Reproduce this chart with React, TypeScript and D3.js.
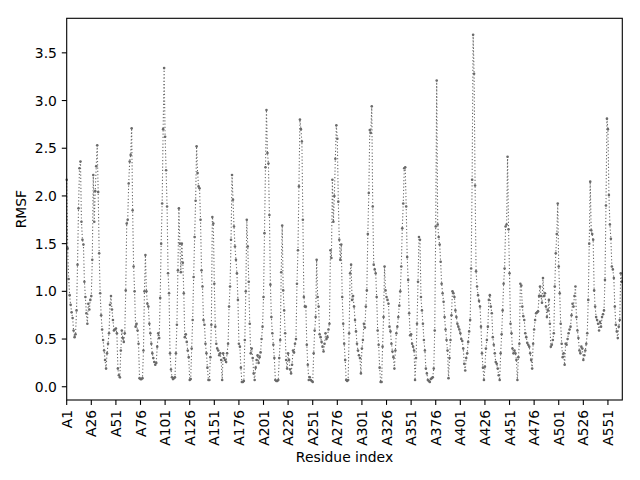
import React from 'react';
import * as d3 from 'd3';

// RMSF per residue (index 0 = residue A1)
const rmsf: number[] = [
  2.17, 1.45, 1.13, 0.96, 0.86, 0.78, 0.72, 0.59, 0.52, 0.55,
  0.80, 1.28, 1.87, 2.29, 2.36, 1.73, 1.54, 1.49, 1.10, 0.94,
  0.77, 0.66, 0.87, 0.81, 0.91, 0.95, 1.33, 2.22, 1.73, 2.05,
  2.31, 2.53, 2.04, 1.40, 0.98, 0.75, 0.60, 0.49, 0.38, 0.28,
  0.19, 0.35, 0.45, 0.56, 0.86, 0.95, 0.81, 0.70, 0.59, 0.60,
  0.61, 0.56, 0.19, 0.12, 0.10, 0.38, 0.59, 0.51, 0.47, 0.56,
  1.01, 1.71, 1.75, 2.13, 2.36, 2.43, 2.71, 1.85, 1.26, 1.00,
  0.63, 0.66, 0.59, 0.45, 0.09, 0.08, 0.08, 0.09, 0.38, 1.00,
  1.38, 1.00, 0.87, 0.84, 0.66, 0.56, 0.45, 0.35, 0.30, 0.26,
  0.23, 0.25, 0.42, 0.56, 0.51, 0.93, 1.50, 1.92, 2.70, 3.34,
  2.62, 2.27, 1.89, 1.19, 0.98, 0.35, 0.18, 0.10, 0.08, 0.09,
  0.10, 0.35, 0.65, 1.22, 1.87, 1.50, 1.20, 1.50, 1.30, 0.98,
  0.52, 0.55, 0.47, 0.38, 0.31, 0.07, 0.08, 0.40, 0.70, 1.15,
  1.57, 1.95, 2.52, 2.24, 2.10, 2.08, 1.75, 1.22, 1.05, 0.70,
  0.65, 0.45, 0.35, 0.20, 0.07, 0.07, 0.31, 0.65, 1.78, 1.71,
  1.08, 0.63, 0.45, 0.40, 0.38, 0.33, 0.35, 0.28, 0.07, 0.35,
  0.30, 0.28, 0.26, 0.35, 0.45, 0.84, 1.05, 1.54, 2.22, 1.96,
  1.68, 1.47, 1.33, 1.19, 0.91, 0.45, 0.42, 0.20, 0.05, 0.05,
  0.06, 0.49, 1.00, 1.75, 1.47, 1.10, 0.66, 0.35, 0.40, 0.30,
  0.14, 0.07, 0.20, 0.28, 0.33, 0.25, 0.31, 0.36, 0.50, 0.63,
  0.94, 1.61, 2.30, 2.90, 2.45, 2.34, 1.80, 1.07, 0.73, 0.56,
  0.44, 0.30, 0.07, 0.06, 0.06, 0.07, 0.30, 0.49, 1.20, 1.69,
  1.01, 0.80, 0.56, 0.28, 0.19, 0.35, 0.28, 0.18, 0.14, 0.23,
  0.38, 0.36, 0.45, 0.50, 1.08, 1.43, 2.10, 2.80, 2.70, 2.57,
  1.75, 0.94, 0.84, 0.84, 0.44, 0.23, 0.07, 0.10, 0.07, 0.06,
  0.05, 0.35, 0.59, 0.73, 1.33, 0.94, 0.84, 0.55, 0.52, 0.47,
  0.42, 0.37, 0.45, 0.56, 0.50, 0.52, 0.60, 0.66, 1.43, 1.35,
  2.17, 1.73, 2.00, 2.39, 2.74, 2.60, 1.94, 1.54, 1.33, 1.49,
  0.94, 0.66, 0.45, 0.28, 0.07, 0.06, 0.07, 0.56, 1.19, 1.28,
  0.91, 0.95, 0.84, 0.70, 0.58, 0.45, 0.38, 0.33, 0.30, 0.14,
  0.40, 0.49, 0.66, 0.62, 0.84, 1.01, 1.60, 2.03, 2.69, 2.66,
  2.94, 1.89, 1.28, 1.23, 1.19, 0.94, 0.59, 0.44, 0.20, 0.05,
  0.05, 0.42, 0.73, 1.26, 1.01, 0.94, 0.91, 0.87, 0.63, 0.58,
  0.45, 0.37, 0.31, 0.19, 0.38, 0.56, 0.63, 0.73, 0.85, 1.00,
  1.26, 1.66, 1.92, 2.29, 2.30, 1.89, 1.36, 1.12, 0.77, 0.54,
  0.55, 0.45, 0.42, 0.38, 0.07, 0.30, 0.66, 1.10, 1.57, 1.54,
  0.94, 0.80, 0.66, 0.49, 0.38, 0.19, 0.14, 0.07, 0.06, 0.05,
  0.08, 0.09, 0.10, 0.19, 0.59, 1.68, 3.21, 1.70, 1.57, 1.49,
  1.31, 1.08, 0.98, 0.89, 0.73, 0.60, 0.49, 0.38, 0.09, 0.30,
  0.49, 0.75, 1.00, 0.98, 0.94, 0.80, 0.73, 0.66, 0.63, 0.60,
  0.56, 0.50, 0.48, 0.40, 0.24, 0.17, 0.30, 0.35, 0.47, 0.58,
  0.70, 1.24, 2.17, 3.69, 3.28, 2.11, 1.21, 1.05, 0.96, 0.90,
  0.84, 0.63, 0.35, 0.20, 0.07, 0.21, 0.40, 0.49, 0.63, 0.91,
  0.96, 0.84, 0.77, 0.52, 0.44, 0.35, 0.26, 0.24, 0.19, 0.12,
  0.07, 0.35, 0.55, 0.80, 1.08, 1.24, 1.68, 1.70, 2.41, 1.65,
  1.19, 0.66, 0.56, 0.40, 0.35, 0.38, 0.35, 0.28, 0.07, 0.31,
  0.45, 1.08, 1.06, 0.84, 0.74, 0.70, 0.56, 0.52, 0.46, 0.44,
  0.42, 0.35, 0.28, 0.19, 0.45, 0.60, 0.70, 0.77, 0.78, 0.79,
  0.95, 1.05, 0.95, 0.88, 1.14, 0.95, 0.98, 0.84, 0.73, 0.80,
  0.91, 0.66, 0.42, 0.44, 0.49, 0.56, 1.05, 1.40, 1.60, 1.92,
  1.26, 0.98, 0.66, 0.45, 0.31, 0.35, 0.23, 0.45, 0.44, 0.50,
  0.56, 0.60, 0.63, 0.75, 0.87, 0.84, 0.95, 1.05, 0.73, 0.59,
  0.51, 0.38, 0.35, 0.42, 0.40, 0.28, 0.33, 0.38, 0.45, 0.56,
  0.91, 1.50, 2.15, 1.64, 1.60, 1.54, 1.01, 0.84, 0.73, 0.70,
  0.66, 0.59, 0.68, 0.63, 0.73, 0.76, 0.80, 1.12, 1.90, 2.81,
  2.70, 2.01, 1.70, 1.55, 1.26, 1.23, 1.14, 0.84, 0.65, 0.58,
  0.51, 0.63, 0.70, 1.19, 1.10,
];

const xTickLabels: string[] = [
  'A1', 'A26', 'A51', 'A76', 'A101', 'A126', 'A151', 'A176', 'A201', 'A226',
  'A251', 'A276', 'A301', 'A326', 'A351', 'A376', 'A401', 'A426', 'A451', 'A476',
  'A501', 'A526', 'A551',
];

const yTicks: number[] = [0, 0.5, 1.0, 1.5, 2.0, 2.5, 3.0, 3.5];

const W = 640;
const H = 480;
const plot = { left: 66.7, right: 622.3, top: 18.3, bottom: 400 };
const FONT = 'DejaVu Sans, sans-serif';
const FS = 13.9;
const TICK = 4.9;
const GREY = '#6a6a6a';

export default function App() {
  const x = d3.scaleLinear().domain([0, 564.6]).range([plot.left, plot.right]);
  const y = d3.scaleLinear().domain([-0.139, 3.862]).range([plot.bottom, plot.top]);

  const line = d3
    .line<number>()
    .x((_, i) => x(i))
    .y(d => y(d));

  const fmt = d3.format('.1f');
  const tickPos = (label: string) => parseInt(label.slice(1), 10) - 1;

  return (
    <svg
      width={W}
      height={H}
      style={{ position: 'absolute', left: 0, top: 0, background: '#fff' }}
      fontFamily={FONT}
    >
      <rect x={0} y={0} width={W} height={H} fill="#fff" />

      {/* data */}
      <path
        d={line(rmsf) || ''}
        fill="none"
        stroke={GREY}
        strokeWidth={1.1}
        strokeDasharray="1.2,2.1"
      />
      {rmsf.map((v, i) => (
        <circle key={i} cx={x(i)} cy={y(v)} r={1.3} fill={GREY} />
      ))}

      {/* frame */}
      <rect
        x={plot.left}
        y={plot.top}
        width={plot.right - plot.left}
        height={plot.bottom - plot.top}
        fill="none"
        stroke="#000"
        strokeWidth={1.1}
      />

      {/* y axis */}
      {yTicks.map(t => (
        <g key={t}>
          <line
            x1={plot.left - TICK}
            x2={plot.left}
            y1={y(t)}
            y2={y(t)}
            stroke="#000"
            strokeWidth={1.1}
          />
          <text
            x={plot.left - TICK - 4.9}
            y={y(t)}
            fontSize={FS}
            textAnchor="end"
            dominantBaseline="central"
            fill="#000"
          >
            {fmt(t)}
          </text>
        </g>
      ))}

      {/* x axis */}
      {xTickLabels.map(lab => {
        const px = x(tickPos(lab));
        const ty = plot.bottom + TICK + 4.9;
        return (
          <g key={lab}>
            <line
              x1={px}
              x2={px}
              y1={plot.bottom}
              y2={plot.bottom + TICK}
              stroke="#000"
              strokeWidth={1.1}
            />
            <text
              x={px}
              y={ty}
              fontSize={FS}
              textAnchor="end"
              dominantBaseline="central"
              transform={`rotate(-90, ${px}, ${ty})`}
              fill="#000"
            >
              {lab}
            </text>
          </g>
        );
      })}

      {/* axis labels */}
      <text
        x={(plot.left + plot.right) / 2}
        y={462}
        fontSize={FS}
        textAnchor="middle"
        fill="#000"
      >
        Residue index
      </text>
      <text
        x={0}
        y={0}
        fontSize={FS}
        textAnchor="middle"
        fill="#000"
        transform={`translate(26, ${(plot.top + plot.bottom) / 2}) rotate(-90)`}
      >
        RMSF
      </text>
    </svg>
  );
}
